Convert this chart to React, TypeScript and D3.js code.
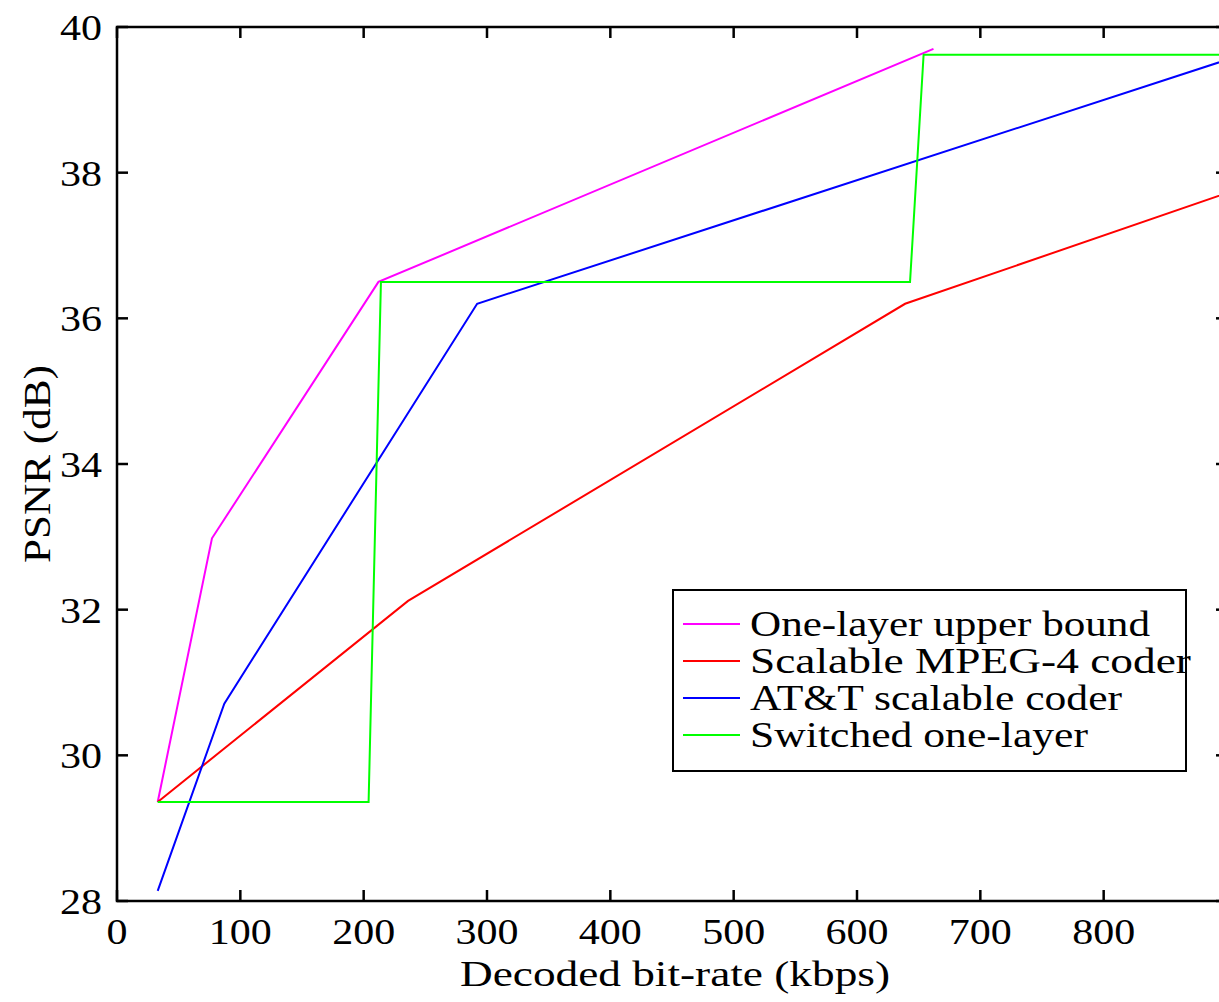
import React, { useRef, useEffect } from "react";
import * as d3 from "d3";

// PSNR vs decoded bit-rate, four coders
const xTicks = [0, 100, 200, 300, 400, 500, 600, 700, 800];
const yTicks = [28, 30, 32, 34, 36, 38, 40];

const seriesNames = [
  "One-layer upper bound",
  "Scalable MPEG-4 coder",
  "AT&T scalable coder",
  "Switched one-layer",
];
const seriesColors = ["#ff00ff", "#ff0000", "#0000ff", "#00ff00"];

const upperBound: [number, number][] = [
  [33, 29.36],
  [77, 32.98],
  [212, 36.5],
  [662, 39.7],
];
const mpeg4: [number, number][] = [
  [33, 29.36],
  [236, 32.12],
  [639, 36.2],
  [900, 37.72],
];
const att: [number, number][] = [
  [33, 28.14],
  [87, 30.71],
  [292, 36.2],
  [900, 39.55],
];
const switched: [number, number][] = [
  [33, 29.36],
  [204, 29.36],
  [214, 36.5],
  [643, 36.5],
  [654, 39.62],
  [900, 39.62],
];
const allSeries = [upperBound, mpeg4, att, switched];

// measured text widths in the reference (the figure is slightly stretched)
const legendWidths = [400, 441, 372, 338];

const FONT = "'Times New Roman', Times, 'Liberation Serif', serif";

const App: React.FC = () => {
  const ref = useRef<SVGSVGElement | null>(null);

  useEffect(() => {
    if (!ref.current) return;
    const svg = d3.select(ref.current);
    svg.selectAll("*").remove();

    const left = 117, right = 1227, top = 27, bottom = 901;

    const x = d3.scaleLinear().domain([0, 900]).range([left, right]);
    const y = d3.scaleLinear().domain([28, 40]).range([bottom, top]);

    // lines
    const line = d3.line<[number, number]>()
      .x((d) => x(d[0]))
      .y((d) => y(d[1]));

    svg.append("g")
      .selectAll("path")
      .data(allSeries)
      .join("path")
      .attr("d", (d) => line(d)!)
      .attr("fill", "none")
      .attr("stroke", (_, i) => seriesColors[i])
      .attr("stroke-width", 2);

    // frame
    svg.append("rect")
      .attr("x", left).attr("y", top)
      .attr("width", right - left).attr("height", bottom - top)
      .attr("fill", "none").attr("stroke", "#000").attr("stroke-width", 2.5);

    const tickLen = 11;
    const ticks = svg.append("g").attr("stroke", "#000").attr("stroke-width", 2.5);
    xTicks.forEach((t) => {
      ticks.append("line").attr("x1", x(t)).attr("x2", x(t)).attr("y1", bottom).attr("y2", bottom - tickLen);
      ticks.append("line").attr("x1", x(t)).attr("x2", x(t)).attr("y1", top).attr("y2", top + tickLen);
    });
    yTicks.forEach((t) => {
      ticks.append("line").attr("x1", left).attr("x2", left + tickLen).attr("y1", y(t)).attr("y2", y(t));
      ticks.append("line").attr("x1", right).attr("x2", right - tickLen).attr("y1", y(t)).attr("y2", y(t));
    });

    const txt = svg.append("g")
      .style("font-family", FONT)
      .attr("fill", "#000");

    // tick labels
    txt.append("g")
      .selectAll("text")
      .data(xTicks)
      .join("text")
      .attr("x", (d) => x(d))
      .attr("y", bottom + 43)
      .attr("text-anchor", "middle")
      .attr("textLength", (d) => String(d).length * 21)
      .attr("lengthAdjust", "spacingAndGlyphs")
      .style("font-size", "36px")
      .text((d) => d);

    txt.append("g")
      .selectAll("text")
      .data(yTicks)
      .join("text")
      .attr("x", left - 15)
      .attr("y", (d) => y(d) + 13)
      .attr("text-anchor", "end")
      .attr("textLength", 42)
      .attr("lengthAdjust", "spacingAndGlyphs")
      .style("font-size", "36px")
      .text((d) => d);

    // axis titles
    txt.append("text")
      .attr("x", 675)
      .attr("y", 986)
      .attr("text-anchor", "middle")
      .attr("textLength", 430)
      .attr("lengthAdjust", "spacingAndGlyphs")
      .style("font-size", "35px")
      .text("Decoded bit-rate (kbps)");

    txt.append("text")
      .attr("transform", `translate(50,${(top + bottom) / 2}) rotate(-90)`)
      .attr("text-anchor", "middle")
      .attr("textLength", 198)
      .attr("lengthAdjust", "spacingAndGlyphs")
      .style("font-size", "37px")
      .text("PSNR (dB)");

    // legend
    const lg = svg.append("g");
    lg.append("rect")
      .attr("x", 673).attr("y", 590)
      .attr("width", 513).attr("height", 181)
      .attr("fill", "#fff").attr("stroke", "#000").attr("stroke-width", 2);
    const rowY = (i: number) => 624 + i * 37;
    seriesNames.forEach((name, i) => {
      lg.append("line")
        .attr("x1", 683).attr("x2", 740)
        .attr("y1", rowY(i)).attr("y2", rowY(i))
        .attr("stroke", seriesColors[i]).attr("stroke-width", 2);
      lg.append("text")
        .attr("x", 750)
        .attr("y", rowY(i) + 12)
        .attr("textLength", legendWidths[i])
        .attr("lengthAdjust", "spacingAndGlyphs")
        .style("font-family", FONT)
        .style("font-size", "35px")
        .text(name);
    });
  }, []);

  return (
    <div style={{ position: "absolute", left: 0, top: 0, width: 1219, height: 1002, overflow: "hidden", background: "#fff" }}>
      <svg ref={ref} width={1219} height={1002} style={{ display: "block" }}></svg>
    </div>
  );
};

export default App;
